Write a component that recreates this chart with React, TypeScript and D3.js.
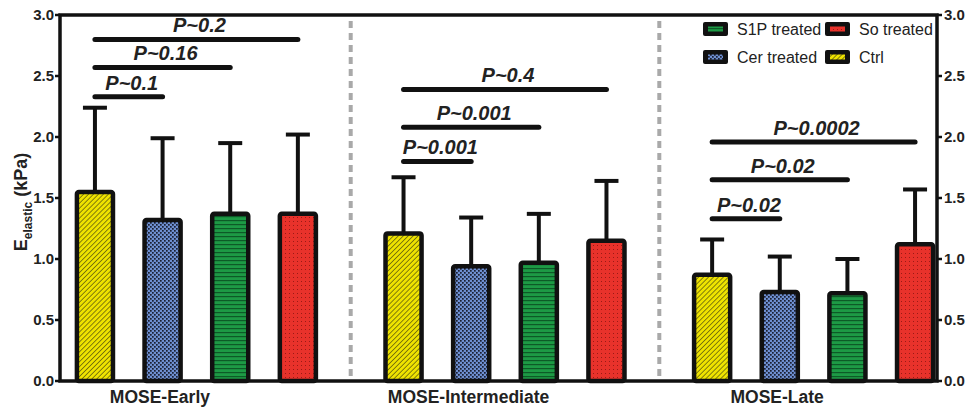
import * as d3 from "d3";

const groups = ["MOSE-Early", "MOSE-Intermediate", "MOSE-Late"];
const series = ["Ctrl", "Cer treated", "S1P treated", "So treated"];

// mean values (kPa) per group, one array per treatment
const ctrlMean = [1.55, 1.21, 0.87];
const cerMean = [1.32, 0.94, 0.73];
const s1pMean = [1.37, 0.97, 0.72];
const soMean = [1.37, 1.15, 1.12];

// upper error (SD)
const ctrlSd = [0.69, 0.46, 0.29];
const cerSd = [0.67, 0.4, 0.29];
const s1pSd = [0.58, 0.4, 0.28];
const soSd = [0.65, 0.49, 0.45];

// significance brackets
const sigGroup = [0, 0, 0, 1, 1, 1, 2, 2, 2];
const sigTo = [1, 2, 3, 1, 2, 3, 1, 2, 3];
const sigLevel = [2.33, 2.57, 2.8, 1.8, 2.08, 2.39, 1.33, 1.65, 1.96];
const sigLabel = ["P~0.1", "P~0.16", "P~0.2", "P~0.001", "P~0.001", "P~0.4", "P~0.02", "P~0.02", "P~0.0002"];

const yTicks = [0, 0.5, 1, 1.5, 2, 2.5, 3];

// legend order as in the figure (two rows, two columns)
const legendOrder = ["S1P treated", "So treated", "Cer treated", "Ctrl"];

const means = [ctrlMean, cerMean, s1pMean, soMean];
const sds = [ctrlSd, cerSd, s1pSd, soSd];
const fills = ["url(#pYellow)", "url(#pBlue)", "url(#pGreen)", "url(#pRed)"];

const W = 971;
const H = 414;
const frame = { left: 60, right: 937, top: 15, bottom: 381 };
const font = "'Liberation Sans', Arial, sans-serif";

export default function App() {
  const y = d3.scaleLinear().domain([0, 3]).range([frame.bottom, frame.top]);

  const x0 = d3
    .scaleBand()
    .domain(groups)
    .range([frame.left, frame.left + 890])
    .paddingInner(0.116)
    .paddingOuter(0);

  const x1 = d3
    .scaleBand()
    .domain(series)
    .range([0, x0.bandwidth()])
    .paddingInner(0.467)
    .paddingOuter(0.25);

  const barW = x1.bandwidth();
  const cx = (g: number, s: number) => (x0(groups[g]) as number) + (x1(series[s]) as number) + barW / 2;

  const bars = groups.flatMap((g, gi) =>
    series.map((s, si) => ({ gi, si, mean: means[si][gi], sd: sds[si][gi] }))
  );

  const separators = groups.slice(1).map((g, i) => {
    const prevEnd = (x0(groups[i]) as number) + x0.bandwidth();
    return (prevEnd + (x0(g) as number)) / 2;
  });

  const sig = sigLabel.map((label, i) => ({
    label,
    x1: cx(sigGroup[i], 0),
    x2: cx(sigGroup[i], sigTo[i]),
    y: y(sigLevel[i]),
  }));

  const legendX = [703, 825];
  const legendY = [29, 57];

  return (
    <svg
      width={W}
      height={H}
      viewBox={`0 0 ${W} ${H}`}
      style={{ position: "absolute", left: 0, top: 0, background: "#fff" }}
      fontFamily={font}
    >
      <defs>
        <pattern id="pYellow" width="3.5" height="3.5" patternUnits="userSpaceOnUse" patternTransform="rotate(45)">
          <rect width="3.5" height="3.5" fill="#efe300" />
          <line x1="0" y1="0" x2="0" y2="3.5" stroke="#3a3a10" strokeWidth="1.2" />
        </pattern>
        <pattern id="pBlue" width="4" height="4" patternUnits="userSpaceOnUse">
          <rect width="4" height="4" fill="#6e8fd0" />
          <rect x="0" y="0" width="1.7" height="1.7" fill="#1a1f33" />
          <rect x="2" y="2" width="1.7" height="1.7" fill="#1a1f33" />
        </pattern>
        <pattern id="pGreen" width="4" height="4" patternUnits="userSpaceOnUse">
          <rect width="4" height="4" fill="#1d9a45" />
          <rect x="0" y="0" width="4" height="1.2" fill="#0d5a27" />
        </pattern>
        <pattern id="pRed" width="4" height="4" patternUnits="userSpaceOnUse">
          <rect width="4" height="4" fill="#e8322b" />
          <rect x="1" y="1" width="1" height="1" fill="#9a1a16" />
        </pattern>
      </defs>

      {/* dashed group separators */}
      {separators.map((sx, i) => (
        <line
          key={i}
          x1={sx}
          x2={sx}
          y1={frame.top + 6}
          y2={frame.bottom}
          stroke="#a9a9a9"
          strokeWidth={4}
          strokeDasharray="7 5"
        />
      ))}

      {/* error bars */}
      {bars.map((b, i) => {
        const c = cx(b.gi, b.si);
        return (
          <g key={i} stroke="#111" strokeWidth={4}>
            <line x1={c} x2={c} y1={y(b.mean)} y2={y(b.mean + b.sd)} />
            <line x1={c - 12} x2={c + 12} y1={y(b.mean + b.sd)} y2={y(b.mean + b.sd)} />
          </g>
        );
      })}

      {/* bars */}
      {bars.map((b, i) => (
        <rect
          key={i}
          x={cx(b.gi, b.si) - barW / 2}
          y={y(b.mean)}
          width={barW}
          height={y(0) - y(b.mean)}
          rx={2}
          fill={fills[b.si]}
          stroke="#111"
          strokeWidth={4.5}
          strokeLinejoin="round"
        />
      ))}

      {/* significance brackets */}
      {sig.map((s, i) => (
        <g key={i}>
          <line x1={s.x1} x2={s.x2} y1={s.y} y2={s.y} stroke="#111" strokeWidth={5} strokeLinecap="round" />
          <text
            x={(s.x1 + s.x2) / 2 + 3}
            y={s.y - 7}
            textAnchor="middle"
            fontSize={20}
            fontWeight="bold"
            fontStyle="italic"
            fill="#222"
          >
            {s.label}
          </text>
        </g>
      ))}

      {/* frame */}
      <rect
        x={frame.left}
        y={frame.top}
        width={frame.right - frame.left}
        height={frame.bottom - frame.top}
        fill="none"
        stroke="#111"
        strokeWidth={3.5}
      />

      {/* left and right axis ticks */}
      {yTicks.map((t) => (
        <g key={t} fontSize={15} fontWeight="bold" fill="#222">
          <line x1={frame.left - 5} x2={frame.left} y1={y(t)} y2={y(t)} stroke="#111" strokeWidth={2.5} />
          <text x={frame.left - 6} y={y(t)} dy="0.36em" textAnchor="end">
            {d3.format(".1f")(t)}
          </text>
          <line x1={frame.right} x2={frame.right + 5} y1={y(t)} y2={y(t)} stroke="#111" strokeWidth={2.5} />
          <text x={frame.right + 7} y={y(t)} dy="0.36em" textAnchor="start">
            {d3.format(".1f")(t)}
          </text>
        </g>
      ))}

      {/* y label */}
      <text
        transform={`translate(27,${(frame.top + frame.bottom) / 2 + 4}) rotate(-90)`}
        textAnchor="middle"
        fontSize={18}
        fontWeight="bold"
        fill="#222"
      >
        E<tspan fontSize={12} dy="5">elastic</tspan>
        <tspan dy="-5"> (kPa)</tspan>
      </text>

      {/* group labels */}
      {groups.map((g, gi) => (
        <text key={g} x={cx(gi, 0) + 65} y={frame.bottom + 22} textAnchor="middle" fontSize={17.5} fontWeight="bold" fill="#222">
          {g}
        </text>
      ))}

      {/* legend */}
      {legendOrder.map((name, i) => {
        const si = series.indexOf(name);
        const lx = legendX[i % 2];
        const ly = legendY[Math.floor(i / 2)];
        return (
          <g key={name}>
            <rect x={lx} y={ly - 7} width={25} height={14} rx={2} fill="#111" />
            <rect x={lx + 5} y={ly - 2.5} width={15} height={5} fill={fills[si]} />
            <text x={lx + 34} y={ly} dy="0.35em" fontSize={16} fill="#222">
              {name}
            </text>
          </g>
        );
      })}
    </svg>
  );
}
